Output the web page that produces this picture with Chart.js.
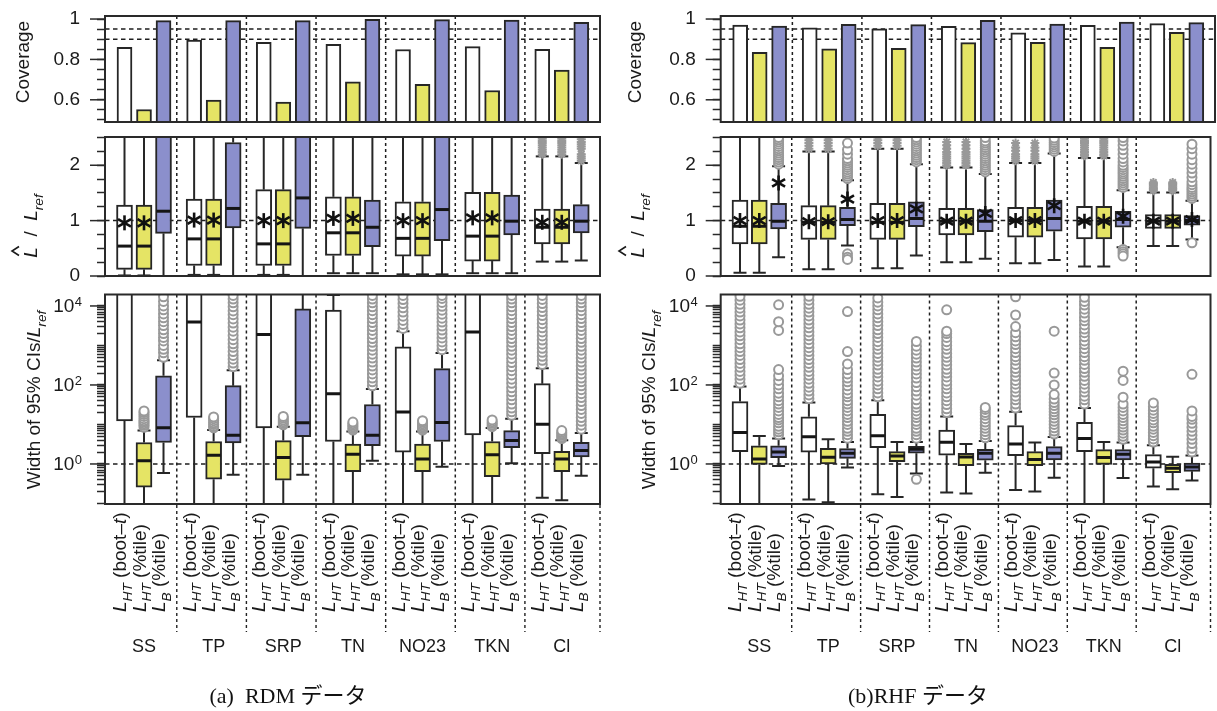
<!DOCTYPE html>
<html>
<head>
<meta charset="utf-8">
<title>Coverage, L/Lref and CI width</title>
<script src="https://cdn.jsdelivr.net/npm/chart.js@4.4.1/dist/chart.umd.min.js"></script>
<style>
  html, body { margin: 0; padding: 0; background: #fff; }
  body { position: relative; width: 1217px; height: 711px; overflow: hidden; }
  canvas { position: absolute; }
  .caption { position: absolute; top: 677px; width: 320px; text-align: center; color: #111;
             font: 22px "Liberation Serif", "Noto Sans CJK JP", serif; white-space: pre; }
</style>
</head>
<body>
<canvas id="covA" width="610" height="130" style="left:0;top:0"></canvas>
<canvas id="ratioA" width="610" height="155" style="left:0;top:130px"></canvas>
<canvas id="widthA" width="610" height="426" style="left:0;top:285px"></canvas>
<canvas id="covB" width="607" height="130" style="left:610px;top:0"></canvas>
<canvas id="ratioB" width="607" height="155" style="left:610px;top:130px"></canvas>
<canvas id="widthB" width="607" height="426" style="left:610px;top:285px"></canvas>
<div class="caption" style="left:128px">(a)  RDM データ</div>
<div class="caption" style="left:758px">(b)RHF データ</div>
<script>
const SANS = '"Liberation Sans", Arial, sans-serif';

// categories and methods
const groups = ['SS', 'TP', 'SRP', 'TN', 'NO23', 'TKN', 'Cl'];
const methodLabels = [
  [['L', 'i'], ['HT', 's'], [' (boot\u2013', 'n'], ['t', 'i'], [')', 'n']],
  [['L', 'i'], ['HT', 's'], [' (%tile)', 'n']],
  [['L', 'i'], ['B', 's'], [' (%tile)', 'n']]
];
const fills = ['#ffffff', '#e5e465', '#8b8fcc'];

// axis ticks
const covTicks = [0.5, 0.55, 0.6, 0.65, 0.7, 0.75, 0.8, 0.85, 0.9, 0.95, 1];
const covMajor = [0.6, 0.8, 1];
const covRef = [0.9, 0.95];
const ratioTicks = [0, 0.25, 0.5, 0.75, 1, 1.25, 1.5, 1.75, 2, 2.25, 2.5];
const ratioMajor = [0, 1, 2];
const ratioRef = [1];
const widthMajor = [1, 100, 10000];
const widthMajorExp = ['0', '2', '4'];
const widthRef = [1];

// coverage (a) RDM, (b) RHF
const covA_bootT = [0.860, 0.896, 0.885, 0.875, 0.849, 0.863, 0.850];
const covA_htPct = [0.552, 0.598, 0.589, 0.689, 0.677, 0.646, 0.747];
const covA_bPct  = [0.992, 0.992, 0.992, 0.999, 0.997, 0.995, 0.984];
const covB_bootT = [0.970, 0.957, 0.952, 0.964, 0.932, 0.969, 0.977];
const covB_htPct = [0.835, 0.853, 0.855, 0.883, 0.885, 0.860, 0.934];
const covB_bPct  = [0.965, 0.974, 0.972, 0.993, 0.975, 0.985, 0.982];

// L-hat / Lref : [lower whisker, q1, median, q3, upper whisker, mean]
// (L_HT estimate is shared by both L_HT intervals)
const ratioA_HT = [
  [0.01, 0.12, 0.54, 1.28, 3.0, 0.96],
  [0.02, 0.19, 0.67, 1.39, 3.0, 1.01],
  [0.02, 0.19, 0.58, 1.56, 3.0, 1.00],
  [0.05, 0.37, 0.78, 1.43, 3.0, 1.04],
  [0.03, 0.36, 0.68, 1.34, 3.0, 1.00],
  [0.05, 0.27, 0.72, 1.51, 3.0, 1.05],
  [0.26, 0.58, 0.88, 1.21, 2.16, 0.97]
];
const ratioA_HT_out = [[], [], [], [], [], [], [2.2, 2.24, 2.28, 2.32, 2.36, 2.4, 2.44, 2.48]];
const ratioA_B = [
  [0.0, 0.77, 1.17, 3.0, 3.0, null],
  [0.0, 0.87, 1.22, 2.41, 3.0, null],
  [0.0, 0.86, 1.41, 3.0, 3.0, null],
  [0.05, 0.53, 0.88, 1.37, 3.0, null],
  [0.03, 0.64, 1.20, 3.0, 3.0, null],
  [0.05, 0.74, 0.99, 1.46, 3.0, null],
  [0.28, 0.78, 0.99, 1.29, 2.04, null]
];
const ratioA_B_out = [[], [], [], [], [], [], [2.08, 2.12, 2.16, 2.2, 2.3, 2.34, 2.38, 2.42, 2.47]];

const ratioB_HT = [
  [0.06, 0.58, 0.90, 1.37, 3.0, 1.00],
  [0.12, 0.66, 0.97, 1.27, 2.25, 0.98],
  [0.14, 0.66, 0.97, 1.31, 2.30, 1.00],
  [0.25, 0.74, 0.99, 1.22, 1.96, 0.99],
  [0.23, 0.70, 1.00, 1.24, 2.04, 1.00],
  [0.17, 0.67, 0.99, 1.26, 2.13, 0.99],
  [0.54, 0.86, 0.99, 1.11, 1.51, 0.99]
];
const ratioB_HT_out = [
  [],
  [2.3, 2.35, 2.4, 2.45, 2.5],
  [2.35, 2.4, 2.45, 2.5],
  [2.0, 2.04, 2.08, 2.12, 2.16, 2.2, 2.24, 2.3, 2.36, 2.42],
  [2.08, 2.12, 2.16, 2.2, 2.26, 2.32, 2.4],
  [2.17, 2.2, 2.24, 2.28, 2.32, 2.36, 2.4, 2.44, 2.48],
  [1.54, 1.57, 1.6, 1.63, 1.66, 1.69]
];
const ratioB_B = [
  [0.34, 0.85, 0.99, 1.31, 1.98, 1.68],
  [0.55, 0.91, 1.02, 1.24, 1.73, 1.39],
  [0.37, 0.89, 1.04, 1.34, 2.02, 1.21],
  [0.31, 0.80, 0.99, 1.20, 1.84, 1.13],
  [0.29, 0.81, 1.04, 1.37, 2.21, 1.27],
  [0.52, 0.88, 1.02, 1.17, 1.55, 1.08],
  [0.66, 0.92, 1.00, 1.09, 1.36, 1.02]
];
const ratioB_B_out = [
  [2.02, 2.06, 2.1, 2.14, 2.18, 2.22, 2.26, 2.3, 2.34, 2.38, 2.42, 2.46, 2.5],
  [1.76, 1.8, 1.84, 1.88, 1.92, 1.96, 2.0, 2.04, 2.08, 2.12, 2.2, 2.28, 2.4, 0.4, 0.34, 0.3],
  [2.06, 2.1, 2.14, 2.18, 2.22, 2.26, 2.3, 2.34, 2.38, 2.42, 2.46, 2.5],
  [1.88, 1.92, 1.96, 2.0, 2.04, 2.08, 2.12, 2.16, 2.2, 2.24, 2.28, 2.32, 2.36, 2.4, 2.44, 2.5],
  [2.25, 2.29, 2.33, 2.37, 2.41, 2.45, 2.49],
  [1.6, 1.64, 1.68, 1.72, 1.76, 1.8, 1.84, 1.88, 1.92, 1.96, 2.0, 2.06, 2.12, 2.2, 2.28, 2.36, 2.44, 2.5, 0.48, 0.44, 0.4, 0.36],
  [1.4, 1.44, 1.48, 1.52, 1.56, 1.6, 1.65, 1.7, 1.78, 1.86, 1.94, 2.02, 2.1, 2.2, 2.3, 2.38, 0.6]
];

// width of 95% CIs / Lref : [lower whisker, q1, median, q3, upper whisker]
const widthA_bootT = [
  [0.01, 12.3, 50000, 100000, 100000],
  [0.01, 15, 3900, 100000, 100000],
  [0.01, 8.2, 1900, 100000, 100000],
  [0.01, 3.7, 60, 7900, 19000],
  [0.01, 2.0, 20.6, 920, 2300],
  [0.01, 5.4, 2200, 100000, 100000],
  [0.14, 1.83, 10.2, 108, 265]
];
const widthA_bootT_out = [
  [], [], [], [],
  [2700, 3400, 4300, 5500, 7000, 9000, 11500, 14500, 18500],
  [],
  [330, 420, 530, 670, 850, 1080, 1370, 1740, 2200, 2800, 3550, 4500, 5700, 7200, 9100, 11500, 14600, 18500]
];
const widthA_htPct = [
  [0.01, 0.26, 1.2, 3.5, 7.0],
  [0.01, 0.41, 1.66, 3.7, 7.2],
  [0.01, 0.39, 1.45, 3.9, 8.8],
  [0.01, 0.64, 1.76, 3.2, 6.6],
  [0.01, 0.64, 1.34, 3.2, 6.6],
  [0.01, 0.48, 1.7, 3.7, 8.1],
  [0.12, 0.64, 1.34, 2.1, 4.0]
];
const widthA_htPct_out = [
  [8.5, 9.5, 10.5, 11.5, 12.5, 14, 16, 18, 20, 22],
  [8.2, 9, 10, 11, 12.5, 14, 15.5],
  [9.8, 10.8, 11.8, 13, 14.5, 16],
  [7.2, 7.9, 8.7, 9.6, 10.5, 11.5],
  [7.2, 7.9, 8.7, 9.6, 10.5, 11.5, 12.5],
  [8.8, 9.7, 10.7, 11.8, 13],
  [4.4, 4.8, 5.3, 5.8, 6.4, 7]
];
const widthA_bPct = [
  [0.59, 3.5, 8.2, 170, 420],
  [0.53, 3.4, 5.3, 96, 235],
  [0.53, 4.9, 11, 8400, 100000],
  [1.2, 2.9, 5.3, 32, 79],
  [0.85, 3.7, 11.2, 260, 640],
  [1.04, 2.6, 3.9, 7.0, 14],
  [0.5, 1.5, 2.2, 3.55, 6.1]
];
const widthA_bPct_out = [
  [500, 650, 800, 1000, 1300, 1600, 2000, 2500, 3200, 4000, 5000, 6300, 8000, 10000, 13000, 17000],
  [290, 360, 450, 560, 700, 900, 1100, 1400, 1800, 2300, 2900, 3700, 4700, 6000, 7500, 9500, 12000, 15000, 18500],
  [],
  [95, 120, 150, 190, 240, 300, 380, 480, 600, 760, 950, 1200, 1500, 1900, 2400, 3000, 3800, 4800, 6000, 7600, 9500, 12000, 15000, 18500],
  [780, 980, 1230, 1550, 1950, 2450, 3100, 3900, 4900, 6200, 7800, 9800, 12300, 15500, 18500],
  [17, 21, 26, 33, 42, 53, 67, 85, 110, 140, 180, 230, 290, 370, 470, 600, 760, 950, 1200, 1500, 1900, 2400, 3000, 3800, 4800, 6000, 7600, 9500, 12000, 15000, 18500],
  [7.6, 9.6, 12, 15, 19, 24, 30, 38, 48, 60, 76, 95, 120, 150, 190, 240, 300, 380, 480, 600, 760, 950, 1200, 1500, 1900, 2400, 3000, 3800, 4800, 6000, 7600, 9500, 12000, 15000, 18500]
];

const widthB_bootT = [
  [0.01, 2.05, 6.3, 38, 92],
  [0.127, 2.0, 4.9, 15.6, 36],
  [0.17, 2.6, 5.2, 18, 41],
  [0.19, 1.66, 3.55, 7.2, 16],
  [0.22, 1.63, 3.2, 9.4, 21],
  [0.01, 2.05, 4.4, 11.4, 26],
  [0.27, 0.78, 1.12, 1.73, 3.0]
];
const widthB_bootT_out = [
  [110, 140, 175, 220, 280, 350, 440, 560, 700, 880, 1100, 1400, 1760, 2200, 2800, 3500, 4400, 5600, 7000, 8800, 11000, 14000, 17500],
  [45, 56, 70, 88, 110, 140, 175, 220, 280, 350, 440, 560, 700, 880, 1100, 1400, 1760, 2200, 2800, 3500, 4400, 5600, 7000, 8800, 11000, 14000, 17500],
  [50, 63, 80, 100, 125, 160, 200, 250, 320, 400, 500, 630, 800, 1000, 1250, 1600, 2000, 2500, 3200, 4000, 5000, 6300, 8000, 10000, 12500, 16000],
  [20, 25, 32, 40, 50, 63, 80, 100, 125, 160, 200, 250, 320, 400, 500, 630, 800, 1000, 1250, 1600, 2000, 2300, 8000],
  [26, 33, 42, 52, 66, 83, 105, 130, 165, 210, 260, 330, 420, 520, 660, 830, 1050, 1300, 1650, 2100, 3000, 5900, 17000],
  [33, 42, 52, 66, 83, 105, 130, 165, 210, 260, 330, 420, 520, 660, 830, 1050, 1300, 1650, 2100, 2600, 3300, 4200, 5200, 6600, 8300, 10500, 13000, 16500],
  [3.6, 4.3, 5.2, 6.3, 7.6, 9, 11, 13, 16, 19, 23, 28, 35]
];
const widthB_htPct = [
  [0.01, 0.98, 1.34, 2.9, 5.1],
  [0.107, 1.0, 1.48, 2.5, 4.2],
  [0.145, 1.15, 1.6, 2.05, 3.6],
  [0.18, 0.91, 1.5, 1.87, 3.2],
  [0.2, 0.91, 1.3, 2.05, 3.5],
  [0.01, 0.98, 1.45, 2.3, 3.6],
  [0.23, 0.6, 0.78, 0.98, 1.53]
];
const widthB_htPct_out = [[], [], [], [], [], [], []];
const widthB_bPct = [
  [0.89, 1.45, 2.0, 2.9, 4.4],
  [0.81, 1.39, 1.87, 2.45, 3.6],
  [0.57, 1.87, 2.36, 2.8, 3.6],
  [0.6, 1.24, 1.87, 2.36, 3.8],
  [0.45, 1.26, 1.87, 2.75, 4.8],
  [0.44, 1.26, 1.76, 2.3, 3.5],
  [0.38, 0.65, 0.84, 1.06, 1.63]
];
const widthB_bPct_out = [
  [5.5, 6.5, 7.6, 9, 11, 13, 15, 18, 22, 27, 33, 40, 50, 62, 80, 100, 130, 170, 245, 2400, 4000, 10700],
  [4.5, 5.5, 6.7, 8, 10, 12, 15, 18, 22, 27, 33, 40, 50, 60, 75, 95, 120, 150, 190, 245, 340, 700, 7200],
  [4.5, 5.5, 6.7, 8, 10, 12, 15, 18, 22, 27, 33, 42, 55, 70, 90, 115, 150, 190, 240, 300, 380, 480, 600, 760, 960, 1260, 0.41],
  [4.6, 5.5, 6.6, 8, 9.6, 11.5, 14, 17, 20, 24, 27],
  [5.7, 6.8, 8.2, 10, 12, 14.5, 17.5, 21, 25, 30, 36, 44, 57, 100, 200, 2300],
  [4.2, 5, 6, 7.2, 8.6, 10.3, 12.4, 15, 18, 22, 27, 33, 49, 130, 224],
  [2.0, 2.5, 3.3, 4.2, 5.3, 6.7, 8.5, 10.7, 13.5, 16, 22, 186]
];

// x layout: three boxes per group, groups separated by dashed lines
const groupStep = 3.57;
const dividerPos = [3.68, 7.25, 10.82, 14.39, 17.96, 21.53];
const xMax = 25.38;
const xPos = (g, j) => 1 + groupStep * g + j;
const boxW = 16, capW = 13;
const edge = '#262626';

function line(ctx, x1, y1, x2, y2) {
  ctx.beginPath(); ctx.moveTo(x1, y1); ctx.lineTo(x2, y2); ctx.stroke();
}

function drawStar(ctx, x, y, r) {
  ctx.save();
  ctx.strokeStyle = '#111'; ctx.lineWidth = 2.6; ctx.lineCap = 'butt';
  for (let k = 0; k < 3; k++) {
    const ang = Math.PI / 2 + k * Math.PI / 3;
    line(ctx, x - r * Math.cos(ang), y - r * Math.sin(ang), x + r * Math.cos(ang), y + r * Math.sin(ang));
  }
  ctx.restore();
}

// text with italic / subscript pieces, drawn on the baseline at y
function drawRich(ctx, segs, x, y, size, align) {
  let total = 0;
  const parts = segs.map(([t, st]) => {
    const sz = st === 's' ? size * 0.72 : size;
    const font = (st === 'n' ? '' : 'italic ') + sz + 'px ' + SANS;
    ctx.font = font;
    const w = ctx.measureText(t).width;
    total += w;
    return { t, st, font, w };
  });
  let cx = align === 'center' ? x - total / 2 : align === 'right' ? x - total : x;
  ctx.textAlign = 'left'; ctx.textBaseline = 'alphabetic';
  parts.forEach(p => {
    p.x = cx;
    ctx.font = p.font;
    ctx.fillText(p.t, cx, y + (p.st === 's' ? size * 0.3 : 0));
    cx += p.w;
  });
  return parts;
}

function yScale(kind, axisW) {
  const base = {
    afterFit: s => { s.width = axisW; s.paddingTop = 0; s.paddingBottom = 0; },
    border: { display: false },
    grid: { drawOnChartArea: false, drawTicks: true, tickLength: 8, tickWidth: 1.5, tickColor: '#2a2a2a' },
    ticks: { autoSkip: false, padding: 17, color: '#1a1a1a', font: { size: 19, family: SANS } }
  };
  if (kind === 'cov') {
    return Object.assign(base, {
      type: 'linear', min: 0.49, max: 1.015,
      afterBuildTicks: s => { s.ticks = covTicks.map(v => ({ value: v })); },
      ticks: Object.assign({}, base.ticks, { callback: v => covMajor.includes(v) ? String(v) : '' })
    });
  }
  if (kind === 'ratio') {
    return Object.assign(base, {
      type: 'linear', min: 0, max: 2.51,
      afterBuildTicks: s => { s.ticks = ratioTicks.map(v => ({ value: v })); },
      ticks: Object.assign({}, base.ticks, { callback: v => ratioMajor.includes(v) ? String(v) : '' })
    });
  }
  return Object.assign(base, {
    type: 'logarithmic', min: 0.097, max: 19500,
    afterBuildTicks: s => {
      const t = [];
      for (let e = -1; e <= 4; e++) {
        for (let m = 1; m <= 9; m++) {
          const v = m * Math.pow(10, e);
          if (v >= 0.097 && v <= 19500) t.push({ value: v });
        }
      }
      s.ticks = t;
    },
    ticks: Object.assign({}, base.ticks, { callback: () => '' })
  });
}

function coverageSets(series) {
  return series.map((vals, j) => ({
    type: 'bar',
    data: vals.map((v, g) => ({ x: xPos(g, j), y: v })),
    backgroundColor: fills[j], borderColor: edge, borderWidth: 2,
    borderSkipped: false, barThickness: 15, grouped: false
  }));
}

function boxSets(series, outs, styles) {
  const sets = [];
  series.forEach((stats, j) => {
    sets.push({
      type: 'bar', order: 2,
      data: stats.map((s, g) => ({ x: xPos(g, j), y: [s[1], s[3]] })),
      backgroundColor: fills[j], borderColor: edge, borderWidth: 2,
      borderSkipped: false, barThickness: boxW, grouped: false,
      stats: stats, col: j
    });
    sets.push({
      type: 'scatter', order: 1,
      data: outs[j].flatMap((vals, g) => vals.map(v => ({ x: xPos(g, j), y: v }))),
      pointStyle: styles[j], pointRadius: 4.5, pointBorderWidth: 2,
      pointBorderColor: '#999999', pointBackgroundColor: '#ffffff'
    });
  });
  return sets;
}

function makeChart(id, cfg) {
  const deco = {
    id: 'deco',
    beforeDatasetsDraw(chart) {
      const { ctx, chartArea: a, scales: { x, y } } = chart;
      ctx.save();
      ctx.beginPath(); ctx.rect(a.left, a.top, a.right - a.left, a.bottom - a.top); ctx.clip();
      ctx.strokeStyle = '#1e1e1e'; ctx.lineWidth = 1.5;
      ctx.setLineDash([4.5, 3.5]);
      cfg.refLines.forEach(v => { const py = y.getPixelForValue(v); line(ctx, a.left, py, a.right, py); });
      ctx.setLineDash([3, 3]);
      dividerPos.forEach(v => { const px = x.getPixelForValue(v); line(ctx, px, a.top, px, a.bottom); });
      ctx.setLineDash([]);
      ctx.strokeStyle = edge; ctx.lineWidth = 2;
      chart.data.datasets.forEach(ds => {
        if (!ds.stats) return;
        ds.stats.forEach((s, g) => {
          const px = x.getPixelForValue(xPos(g, ds.col));
          const lo = y.getPixelForValue(s[0]), q1 = y.getPixelForValue(s[1]);
          const q3 = y.getPixelForValue(s[3]), hi = y.getPixelForValue(s[4]);
          line(ctx, px, q1, px, lo); line(ctx, px, q3, px, hi);
          line(ctx, px - capW / 2, lo, px + capW / 2, lo);
          line(ctx, px - capW / 2, hi, px + capW / 2, hi);
        });
      });
      ctx.restore();
    },
    afterDatasetsDraw(chart) {
      const { ctx, chartArea: a, scales: { x, y } } = chart;
      ctx.save();
      ctx.beginPath(); ctx.rect(a.left, a.top, a.right - a.left, a.bottom - a.top); ctx.clip();
      chart.data.datasets.forEach(ds => {
        if (!ds.stats) return;
        ds.stats.forEach((s, g) => {
          const px = x.getPixelForValue(xPos(g, ds.col));
          const pm = y.getPixelForValue(s[2]);
          ctx.strokeStyle = '#151515'; ctx.lineWidth = 3;
          line(ctx, px - boxW / 2 + 1, pm, px + boxW / 2 - 1, pm);
          if (s[5] != null) drawStar(ctx, px, y.getPixelForValue(s[5]), 7.5);
        });
      });
      ctx.restore();
    },
    afterDraw(chart) {
      const { ctx, chartArea: a, scales: { x, y } } = chart;
      ctx.save();
      ctx.strokeStyle = '#2a2a2a'; ctx.lineWidth = 2;
      ctx.strokeRect(a.left, a.top, a.right - a.left, a.bottom - a.top);
      ctx.lineWidth = 1.5;
      cfg.major.forEach(v => { const py = y.getPixelForValue(v); line(ctx, a.left - 15, py, a.left, py); });
      ctx.fillStyle = '#1a1a1a';

      // y axis title
      ctx.save();
      ctx.translate(cfg.titleX, cfg.titleY);
      ctx.rotate(-Math.PI / 2);
      if (cfg.kind === 'cov') {
        drawRich(ctx, [['Coverage', 'n']], 0, 0, 19, 'center');
      } else if (cfg.kind === 'ratio') {
        const p = drawRich(ctx, [['L', 'i'], ['  /  ', 'n'], ['L', 'i'], ['ref', 's']], 0, 0, 19, 'center');
        const hx = p[0].x + p[0].w / 2 + 1.5;
        ctx.strokeStyle = '#1a1a1a'; ctx.lineWidth = 1.6;
        ctx.beginPath(); ctx.moveTo(hx - 4.5, -18); ctx.lineTo(hx, -25); ctx.lineTo(hx + 4.5, -18); ctx.stroke();
      } else {
        drawRich(ctx, [['Width of 95% CIs/', 'n'], ['L', 'i'], ['ref', 's']], 0, 0, 19, 'center');
      }
      ctx.restore();

      // log tick labels 10^k
      if (cfg.kind === 'width') {
        widthMajor.forEach((v, i) => {
          const py = y.getPixelForValue(v);
          const right = a.left - 23;
          ctx.font = '13px ' + SANS; ctx.textAlign = 'right'; ctx.textBaseline = 'top';
          ctx.fillText(widthMajorExp[i], right, py - 10);
          const ew = ctx.measureText(widthMajorExp[i]).width;
          ctx.font = '19px ' + SANS; ctx.textBaseline = 'middle';
          ctx.fillText('10', right - ew - 0.5, py + 1);
        });

        // category labels below the lower plot
        ctx.strokeStyle = '#222'; ctx.lineWidth = 1.4; ctx.setLineDash([3, 3]);
        dividerPos.concat([xMax]).forEach(v => {
          const px = x.getPixelForValue(v);
          line(ctx, px, a.bottom + 1, px, 347);
        });
        ctx.setLineDash([]);
        groups.forEach((name, g) => {
          for (let j = 0; j < 3; j++) {
            const px = x.getPixelForValue(xPos(g, j));
            ctx.save();
            ctx.translate(px + 1.5, 327);
            ctx.rotate(-Math.PI / 2);
            drawRich(ctx, methodLabels[j], 0, 0, 19, 'left');
            ctx.restore();
          }
          ctx.font = '18px ' + SANS; ctx.textAlign = 'center'; ctx.textBaseline = 'middle';
          ctx.fillText(name, x.getPixelForValue(xPos(g, 1)), 362);
        });
      }
      ctx.restore();
    }
  };

  return new Chart(document.getElementById(id), {
    type: 'bar',
    data: { datasets: cfg.datasets },
    options: {
      responsive: false, animation: false, devicePixelRatio: 1, events: [],
      layout: { padding: { left: 0, right: cfg.padR, top: cfg.padT, bottom: cfg.padB } },
      plugins: { legend: { display: false }, tooltip: { enabled: false } },
      scales: {
        x: { type: 'linear', min: 0, max: xMax, offset: false, display: false },
        y: yScale(cfg.kind, cfg.axisW)
      }
    },
    plugins: [deco]
  });
}

function buildPanel(ids, p, cov, ratio, ratioOut, ratioStyles, width, widthOut) {
  makeChart(ids[0], { kind: 'cov', axisW: p.axisW, padR: p.padR, padT: 16, padB: 8,
    refLines: covRef, major: covMajor, titleX: p.covX, titleY: 62,
    datasets: coverageSets(cov) });
  makeChart(ids[1], { kind: 'ratio', axisW: p.axisW, padR: p.padR, padT: 7, padB: 9,
    refLines: ratioRef, major: ratioMajor, titleX: p.ratioX, titleY: 96,
    datasets: boxSets(ratio, ratioOut, ratioStyles) });
  makeChart(ids[2], { kind: 'width', axisW: p.axisW, padR: p.padR, padT: 9.5, padB: 207,
    refLines: widthRef, major: widthMajor, titleX: p.widthX, titleY: 115,
    datasets: boxSets(width, widthOut, ['circle', 'circle', 'circle']) });
}

buildPanel(['covA', 'ratioA', 'widthA'],
  { axisW: 105, padR: 10, covX: 29, ratioX: 37, widthX: 40 },
  [covA_bootT, covA_htPct, covA_bPct],
  [ratioA_HT, ratioA_HT, ratioA_B], [ratioA_HT_out, ratioA_HT_out, ratioA_B_out], ['star', 'star', 'star'],
  [widthA_bootT, widthA_htPct, widthA_bPct], [widthA_bootT_out, widthA_htPct_out, widthA_bPct_out]);

buildPanel(['covB', 'ratioB', 'widthB'],
  { axisW: 110.7, padR: 2, covX: 31, ratioX: 34, widthX: 45 },
  [covB_bootT, covB_htPct, covB_bPct],
  [ratioB_HT, ratioB_HT, ratioB_B], [ratioB_HT_out, ratioB_HT_out, ratioB_B_out], ['star', 'star', 'circle'],
  [widthB_bootT, widthB_htPct, widthB_bPct], [widthB_bootT_out, widthB_htPct_out, widthB_bPct_out]);
</script>
</body>
</html>
